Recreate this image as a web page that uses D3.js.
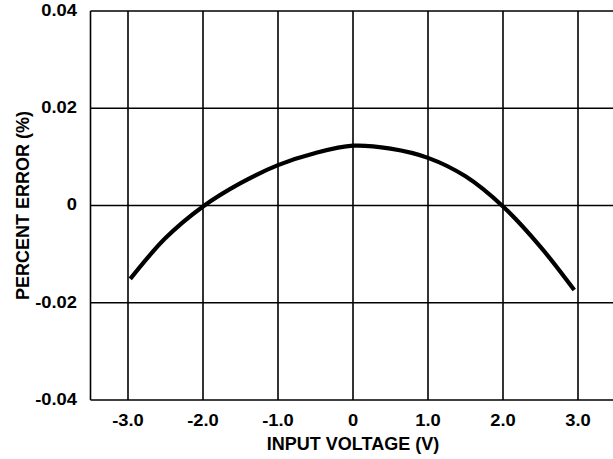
<!DOCTYPE html>
<html>
<head>
<meta charset="utf-8">
<script src="https://cdn.jsdelivr.net/npm/d3@7"></script>
<style>
  html, body { margin: 0; padding: 0; background: #fff; }
  svg { display: block; }
  text { font-family: "Liberation Sans", Arial, Helvetica, sans-serif; font-weight: bold; fill: #000; }
</style>
</head>
<body>
<script>
// Data
const voltage = [-2.97, -2.5, -2.0, -1.5, -1.0, -0.5, 0.0, 0.5, 1.0, 1.5, 2.0, 2.5, 2.95];
const percentError = [-0.0151, -0.0067, -0.0002, 0.0046, 0.0083, 0.0108, 0.0123, 0.0117, 0.0098, 0.0060, -0.0002, -0.0085, -0.0174];
const xTicks = [-3, -2, -1, 0, 1, 2, 3];
const xTickLabels = ["-3.0", "-2.0", "-1.0", "0", "1.0", "2.0", "3.0"];
const yTicks = [0.04, 0.02, 0, -0.02, -0.04];
const yTickLabels = ["0.04", "0.02", "0", "-0.02", "-0.04"];

const W = 613, H = 459;
const svg = d3.select("body").append("svg").attr("width", W).attr("height", H);

const x = d3.scaleLinear().domain([-3.5, 3.5]).range([90.5, 615.5]);
const y = d3.scaleLinear().domain([-0.04, 0.04]).range([400, 11]);

const grid = svg.append("g").attr("stroke", "#000").attr("stroke-width", 1.6).attr("fill", "none");
grid.selectAll("line.v").data(xTicks).join("line")
  .attr("x1", d => x(d)).attr("x2", d => x(d))
  .attr("y1", y(0.04)).attr("y2", y(-0.04));
grid.selectAll("line.h").data(yTicks).join("line")
  .attr("x1", x(-3.5)).attr("x2", x(3.5))
  .attr("y1", d => y(d)).attr("y2", d => y(d));
grid.append("line").attr("x1", x(-3.5)).attr("x2", x(-3.5)).attr("y1", y(0.04)).attr("y2", y(-0.04));
grid.append("line").attr("x1", x(3.5)).attr("x2", x(3.5)).attr("y1", y(0.04)).attr("y2", y(-0.04));

// curve
const pts = voltage.map((v, i) => [v, percentError[i]]);
svg.append("path").datum(pts)
  .attr("fill", "none").attr("stroke", "#000").attr("stroke-width", 4.2)
  .attr("stroke-linejoin", "round")
  .attr("d", d3.line().x(d => x(d[0])).y(d => y(d[1])).curve(d3.curveCatmullRom.alpha(0.5)));

// x tick labels
svg.append("g").selectAll("text").data(xTicks).join("text")
  .attr("text-anchor", "middle")
  .attr("font-size", 17)
  .attr("transform", d => `translate(${x(d)},426) scale(1.08,1)`)
  .text((d, i) => xTickLabels[i]);

// y tick labels
svg.append("g").selectAll("text").data(yTicks).join("text")
  .attr("text-anchor", "end")
  .attr("font-size", 17)
  .attr("dy", "0.35em")
  .attr("transform", d => `translate(77,${y(d) - 1}) scale(1.08,1)`)
  .text((d, i) => yTickLabels[i]);

// axis titles
svg.append("text")
  .attr("x", x(0)).attr("y", 450)
  .attr("text-anchor", "middle").attr("font-size", 18)
  .text("INPUT VOLTAGE (V)");

svg.append("text")
  .attr("transform", `translate(29,${y(0)}) rotate(-90)`)
  .attr("text-anchor", "middle").attr("font-size", 18)
  .text("PERCENT ERROR (%)");
</script>
</body>
</html>
